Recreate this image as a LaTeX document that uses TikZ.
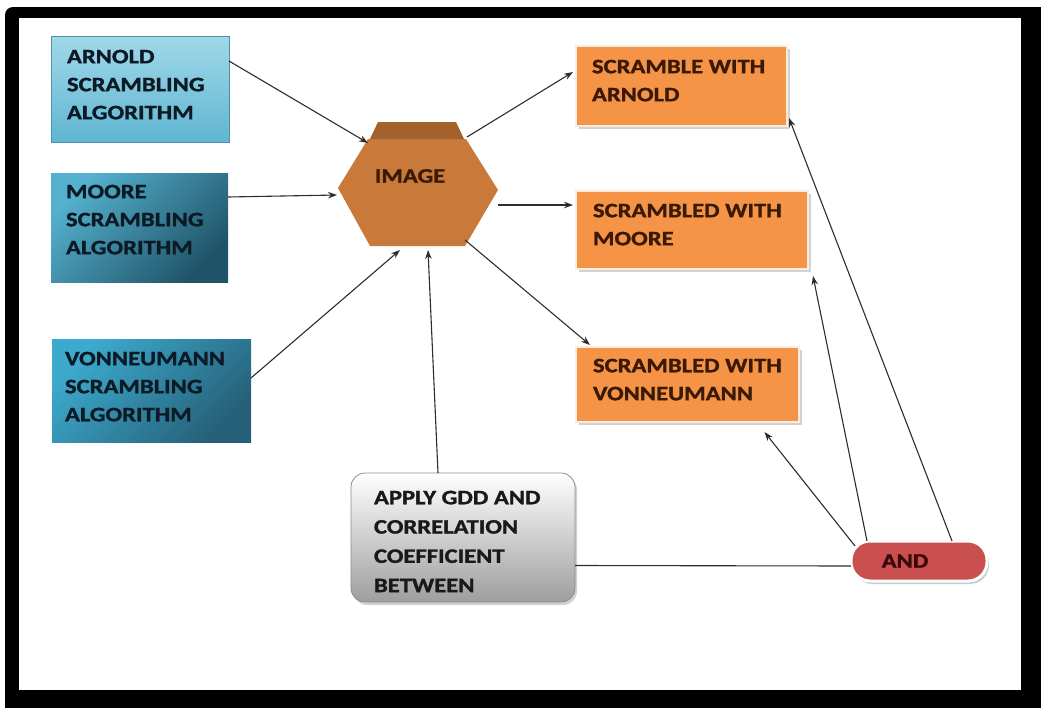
\documentclass[tikz,border=0pt]{standalone}
\usepackage{fontspec}
\newfontfamily\dfont{Carlito}[FakeStretch=1.2, BoldFeatures={FakeBold=1.4}]
\usetikzlibrary{arrows.meta,shadows}
\definecolor{blueA1}{RGB}{160,216,232}
\definecolor{blueA2}{RGB}{96,182,210}
\definecolor{blueB1}{RGB}{84,176,206}
\definecolor{blueB2}{RGB}{32,84,104}
\definecolor{blueC1}{RGB}{60,170,205}
\definecolor{blueC2}{RGB}{38,96,120}
\definecolor{orangeF}{RGB}{245,148,70}
\definecolor{orangeE}{RGB}{252,236,222}
\definecolor{hexF}{RGB}{201,122,59}
\definecolor{hexD}{RGB}{163,98,43}
\definecolor{andF}{RGB}{201,80,79}
\definecolor{navytxt}{RGB}{12,26,38}
\definecolor{browntxt}{RGB}{59,26,5}
\definecolor{linec}{RGB}{45,45,45}
\begin{document}
\begin{tikzpicture}[x=1pt,y=-1pt,
  txt/.style={inner sep=0pt, outer sep=0pt, anchor=north west, align=left,
    font=\dfont\bfseries\fontsize{20.5}{28}\selectfont},
  boxbase/.style={inner sep=0pt, outer sep=0pt, anchor=north west},
  bluelight/.style={boxbase, top color=blueA1, bottom color=blueA2, draw=blueA2!80!black, line width=0.6pt},
  bluedark/.style={boxbase, shading=axis, top color=blueB1, bottom color=blueB2, shading angle=45},
  bluemid/.style={boxbase, shading=axis, top color=blueC1, bottom color=blueC2, shading angle=45},
  orangebox/.style={boxbase, fill=orangeF, draw=orangeE, line width=2.5pt,
    drop shadow={shadow xshift=2.5pt, shadow yshift=-3pt, opacity=0.35}},
  applybox/.style={boxbase, top color=white, bottom color=black!38, draw=black!45, line width=0.8pt,
    rounded corners=14pt, drop shadow={shadow xshift=2pt, shadow yshift=-3pt, opacity=0.35}},
  andbox/.style={inner sep=0pt, outer sep=0pt, fill=andF, draw=white, line width=3pt,
    rounded corners=19pt, minimum width=136pt, minimum height=40pt,
    drop shadow={shadow xshift=2pt, shadow yshift=-3pt, opacity=0.4}},
  arr/.style={draw=linec, line width=1.1pt, -{Stealth[length=9pt,width=6.5pt]}},
  plain/.style={draw=linec, line width=1.1pt}
]
\useasboundingbox (0,0) rectangle (1041,707);
\clip (0,0) rectangle (1041,707);
% frame
\fill[black, rounded corners=8pt] (5,7) rectangle (1052,718);
\fill[white] (19,18) rectangle (1021,690);

% left blue boxes
\node[bluelight, minimum width=178pt, minimum height=106pt] (arnold) at (51,36) {};
\node[txt, text=navytxt] (arnoldt) at (67,49.8) {ARNOLD\\SCRAMBLING\\ALGORITHM};
\node[bluedark, minimum width=177pt, minimum height=109pt] (moore) at (51,173) {};
\node[txt, text=navytxt] (mooret) at (66,184.8) {MOORE\\SCRAMBLING\\ALGORITHM};
\node[bluemid, minimum width=199pt, minimum height=103pt] (vonn) at (52,339) {};
\node[txt, text=navytxt] (vonnt) at (65,351.8) {VONNEUMANN\\SCRAMBLING\\ALGORITHM};

% image hexagon
\fill[hexF] (338,188) -- (368,139) -- (466,139) -- (498,190) -- (465,246) -- (370,246) -- cycle;
\fill[hexD] (378,122) -- (456,122) -- (464,139) -- (370,139) -- cycle;
\node[inner sep=0pt, text=browntxt, font=\dfont\bfseries\fontsize{20.5}{28}\selectfont] (image) at (410,176) {IMAGE};
\coordinate (imgA) at (368,143);
\coordinate (imgB) at (337,195);
\coordinate (imgC) at (400,250);
\coordinate (imgD) at (428,250);
\coordinate (imgE) at (467,137);
\coordinate (imgF) at (498,205);
\coordinate (imgG) at (465,240);

% right orange boxes
\node[orangebox, minimum width=211pt, minimum height=80pt] (or1) at (576,46) {};
\node[txt, text=browntxt] (or1t) at (592,59.8) {SCRAMBLE WITH\\ARNOLD};
\node[orangebox, minimum width=232pt, minimum height=78pt] (or2) at (576,191) {};
\node[txt, text=browntxt] (or2t) at (593,203.8) {SCRAMBLED WITH\\MOORE};
\node[orangebox, minimum width=223pt, minimum height=75pt] (or3) at (576,347) {};
\node[txt, text=browntxt] (or3t) at (593,358.8) {SCRAMBLED WITH\\VONNEUMANN};

% apply box
\node[applybox, minimum width=224pt, minimum height=129pt] (apply) at (351,473) {};
\node[txt, text=black!90, font=\dfont\bfseries\fontsize{20.5}{29.3}\selectfont] (applyt) at (374,490.8) {APPLY GDD AND\\CORRELATION\\COEFFICIENT\\BETWEEN};

% AND pill
\node[andbox] (and) at (919,561) {};
\node[inner sep=0pt, text={rgb,255:red,58;green,8;blue,8}, font=\dfont\bfseries\fontsize{20.5}{28}\selectfont] (andt) at (905,561) {AND};

% connectors into image
\draw[arr] ([yshift=28pt]arnold.east) -- (imgA);
\draw[arr] ([yshift=30.5pt]moore.east) -- (imgB);
\draw[arr] ([yshift=12.5pt]vonn.east) -- (imgC);
\draw[arr] ([xshift=-25pt]apply.north) -- (imgD);
% image to outputs
\draw[arr] (imgE) -- ([xshift=-3pt,yshift=14pt]or1.west);
\draw[arr] (imgF) -- ([xshift=-3pt,yshift=25pt]or2.west);
\draw[arr] (imgG) -- ([xshift=14pt,yshift=2pt]or3.north west);
% apply -- and
\draw[plain] ([yshift=-28pt]apply.east) -- ([yshift=-5pt]and.west);
% and to outputs
\draw[arr] ([xshift=4pt,yshift=15pt]and.west) -- ([xshift=77pt,yshift=-10pt]or3.south);
\draw[arr] ([xshift=-52pt]and.north) -- ([xshift=5pt,yshift=-7pt]or2.south east);
\draw[arr] ([xshift=33pt]and.north) -- ([xshift=2pt,yshift=-32pt]or1.east);
\end{tikzpicture}
\end{document}
